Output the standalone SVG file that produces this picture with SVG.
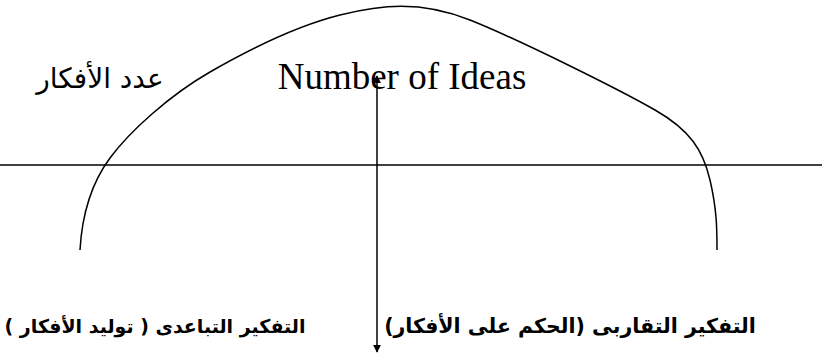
<svg xmlns="http://www.w3.org/2000/svg" width="826" height="356" viewBox="0 0 826 356">
<style>
.ln{stroke:#000;stroke-width:1.5;fill:none}
.ar{font-family:"DejaVu Sans","Noto Sans",sans-serif;fill:#000}
.en{font-family:"Liberation Serif","DejaVu Serif",serif;fill:#000}
</style>
<defs>
<marker id="ah" viewBox="0 0 10 10" refX="9" refY="5" markerWidth="8" markerHeight="8" orient="auto-start-reverse" markerUnits="userSpaceOnUse">
<path d="M0,0 L10,5 L0,10 z" fill="#000"/>
</marker>
</defs>
<g id="connectors">
<line class="ln" x1="0" y1="165" x2="822" y2="165"/>
<line class="ln" x1="377" y1="76" x2="377" y2="352" marker-start="url(#ah)" marker-end="url(#ah)"/>
<path id="curve" class="ln" d="M80,250 C82,215 90,185 110,158 S170,95 210,72 S300,25 340,15 S420,0 470,20 S620,90 655,110 S703,150 710,180 S717,230 717,250"/>
</g>
<g id="label-number">
<text class="ar" x="100" y="88" font-size="28" text-anchor="middle" direction="rtl">عدد الأفكار</text>
<text class="en" x="402" y="89" font-size="37" text-anchor="middle">Number of Ideas</text>
</g>
<g id="label-divergent">
<text class="ar" x="155" y="333" font-size="19" font-weight="bold" text-anchor="middle" direction="rtl">التفكير التباعدى ( توليد الأفكار )</text>
</g>
<g id="label-convergent">
<text class="ar" x="570" y="333" font-size="20.5" font-weight="bold" text-anchor="middle" direction="rtl">التفكير التقاربى (الحكم على الأفكار)</text>
</g>
</svg>
